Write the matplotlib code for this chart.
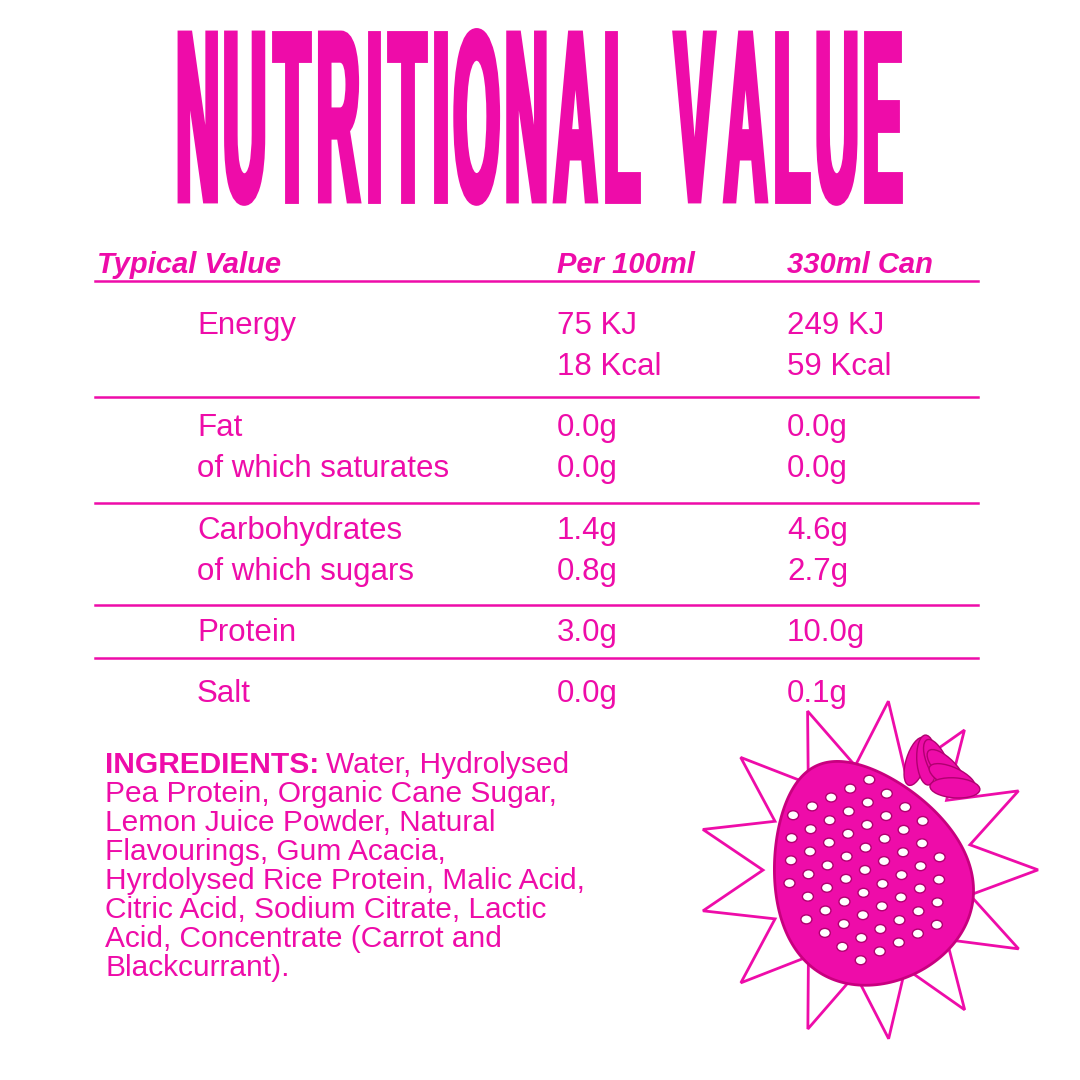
import numpy as np
import matplotlib
matplotlib.use("Agg")
import matplotlib.pyplot as plt
from matplotlib.textpath import TextPath
from matplotlib.patches import PathPatch, Polygon, Ellipse
from matplotlib.font_manager import FontProperties
from matplotlib.transforms import Affine2D

PINK = "#EE0CA9"
TITLE = "NUTRITIONAL VALUE"
HEADERS = ["Typical Value", "Per 100ml", "330ml Can"]
ROWS = [
    ("Energy", "75 KJ", "249 KJ"), ("", "18 Kcal", "59 Kcal"),
    ("Fat", "0.0g", "0.0g"), ("of which saturates", "0.0g", "0.0g"),
    ("Carbohydrates", "1.4g", "4.6g"), ("of which sugars", "0.8g", "2.7g"),
    ("Protein", "3.0g", "10.0g"),
    ("Salt", "0.0g", "0.1g"),
]
ROW_Y = [326, 367, 428, 469, 531, 572, 633, 694]
RULE_Y = [397, 503, 605, 658]
INGREDIENTS = [
    "Water, Hydrolysed",
    "Pea Protein, Organic Cane Sugar,",
    "Lemon Juice Powder, Natural",
    "Flavourings, Gum Acacia,",
    "Hyrdolysed Rice Protein, Malic Acid,",
    "Citric Acid, Sodium Citrate, Lactic",
    "Acid, Concentrate (Carrot and",
    "Blackcurrant).",
]

fig = plt.figure(figsize=(10.8, 10.8), dpi=100)
ax = fig.add_axes([0, 0, 1, 1])
ax.set_xlim(0, 1080)
ax.set_ylim(1080, 0)
ax.axis("off")
FONT = "Liberation Sans"

# title: each glyph condensed, placed with small gaps, stroked for weight
prop = FontProperties(family=FONT, weight="bold")
glyphs = [TextPath((0, 0), ch, size=100, prop=prop) if ch != " " else None for ch in TITLE]
widths = [g.get_extents().width if g is not None else 25 for g in glyphs]
x0, x1, y1 = 180, 900, 201
gap = 11
cap_h = glyphs[0].get_extents().height
sx = (x1 - x0 - gap * (len(TITLE) - 1)) / sum(widths)
sy = 168 / cap_h
x = x0
for g, w in zip(glyphs, widths):
    if g is not None:
        e = g.get_extents()
        tr = Affine2D().translate(-e.x0, 0).scale(sx, -sy).translate(x, y1)
        ax.add_patch(PathPatch(tr.transform_path(g), fc=PINK, ec=PINK, lw=3.5,
                               joinstyle="miter"))
    x += w * sx + gap

# header
cols = [97, 557, 787]
for x, h in zip(cols, HEADERS):
    ax.text(x, 265, h, fontsize=21, family=FONT, weight="bold", style="italic",
            color=PINK, va="center")
ax.plot([95, 978], [281, 281], color=PINK, lw=1.8)

# rows
sub_x = [197, 557, 787]
for y, line in zip(ROW_Y, ROWS):
    for x, t in zip(sub_x, line):
        ax.text(x, y, t, fontsize=22.5, family=FONT, color=PINK, va="center")
for ly in RULE_Y:
    ax.plot([95, 978], [ly, ly], color=PINK, lw=1.8)

# ingredients
fig.canvas.draw()
lab = ax.text(105, 765, "INGREDIENTS:", fontsize=21.5, family=FONT, weight="bold",
              color=PINK, va="center")
ext = lab.get_window_extent(fig.canvas.get_renderer())
for i, line in enumerate(INGREDIENTS):
    x = ext.x1 + 7 if i == 0 else 105
    ax.text(x, 765 + i * 29, line, fontsize=21.5, family=FONT, color=PINK, va="center")

# starburst
cx, cy = 868, 870
n = 13
ang = np.linspace(0, 2 * np.pi, 2 * n, endpoint=False) - np.pi / 2 + 0.12
rad = np.where(np.arange(2 * n) % 2 == 0, 170, 105)
pts = np.c_[cx + rad * np.cos(ang), cy + rad * np.sin(ang)]
ax.add_patch(Polygon(pts, closed=True, fc="white", ec=PINK, lw=2))

# strawberry (tilted)
t = np.linspace(0, 2 * np.pi, 200)
px_ = 95 * np.sin(t) * (1 - 0.25 * np.cos(t))
py_ = -115 * np.cos(t)
rot = np.radians(-25)
bx = 865 + px_ * np.cos(rot) - py_ * np.sin(rot)
by = 870 + px_ * np.sin(rot) + py_ * np.cos(rot)
ax.add_patch(Polygon(np.c_[bx, by], closed=True, fc=PINK, ec="#C8007F", lw=2))
for i in range(-4, 5):
    for j in range(-5, 6):
        u, v = i * 21 + (j % 2) * 10, j * 20
        if (u / 82) ** 2 + (v / 100) ** 2 < 1:
            px = 865 + u * np.cos(rot) - v * np.sin(rot)
            py = 870 + u * np.sin(rot) + v * np.cos(rot)
            ax.add_patch(Ellipse((px, py), 11, 9, fc="white", ec="#B00070", lw=1))
for a in np.linspace(-0.9, 0.9, 6):
    ax.add_patch(Ellipse((925 + 30 * np.sin(a + 0.6), 790 - 30 * np.cos(a + 0.6)), 20, 50,
                         angle=-np.degrees(a + 0.6), fc=PINK, ec="#B00070", lw=1))

fig.savefig("out.png", dpi=100, facecolor="white")
